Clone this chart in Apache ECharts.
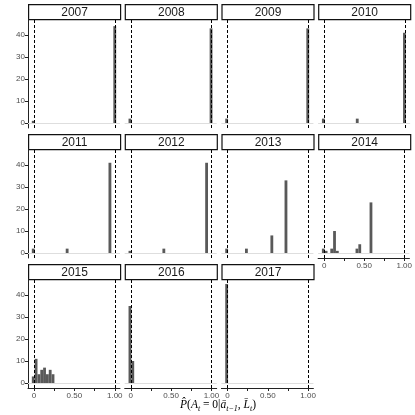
<!DOCTYPE html>
<html>
<head>
<meta charset="utf-8">
<script src="https://cdn.jsdelivr.net/npm/echarts@6/dist/echarts.min.js"></script>
<style>
  html,body{margin:0;padding:0;background:#fff;}
  #chart{width:415px;height:415px;}
</style>
</head>
<body>
<div id="chart"></div>
<script>
"use strict";

// facet labels
var years=['2007','2008','2009','2010','2011','2012','2013','2014','2015','2016','2017'];

// histogram bins per year: [bin centre, count]
var h2007=[[-0.01,1],[1.0,44]];
var h2008=[[-0.01,2],[0.995,43]];
var h2009=[[-0.01,2],[0.995,43]];
var h2010=[[-0.01,2],[0.41,2],[0.995,41]];
var h2011=[[-0.01,2],[0.41,2],[0.94,41]];
var h2012=[[-0.01,1],[0.41,2],[0.94,41]];
var h2013=[[-0.01,2],[0.235,2],[0.55,8],[0.725,33]];
var h2014=[[-0.01,2],[0.025,1],[0.095,2],[0.13,10],[0.165,1],[0.41,2],[0.445,4],[0.585,23]];
var h2015=[[-0.01,3],[0.025,11],[0.06,4],[0.095,6],[0.13,7],[0.165,4],[0.2,6],[0.235,4]];
var h2016=[[-0.01,35],[0.025,10]];
var h2017=[[-0.01,45]];
var hists=[h2007,h2008,h2009,h2010,h2011,h2012,h2013,h2014,h2015,h2016,h2017];

var binWidth=0.035;
var refLines=[0,1];
var yTicks=[0,10,20,30,40];
var xTicks=[0,0.25,0.5,0.75,1];
var xLabels=[0,0.5,1];

var COLS=4, ROWS=3;
var P_LEFT=28, P_STEP_X=96.7, P_W=92;
var P_TOP=19, P_STEP_Y=130, P_H=109, STRIP_H=15;

var chart=echarts.init(document.getElementById('chart'));

var grids=[],xAxes=[],yAxes=[],series=[],graphics=[];

years.forEach(function(yr,i){
  var c=i%COLS, r=Math.floor(i/COLS);
  var left=P_LEFT+c*P_STEP_X, top=P_TOP+r*P_STEP_Y;
  // bottom panel of its column?
  var bottom=(i+COLS>=years.length);
  var firstCol=(c===0);

  grids.push({left:left,top:top,width:P_W,height:P_H,containLabel:false});

  xAxes.push({
    type:'value',gridIndex:i,min:-0.075,max:1.065,
    axisLine:{show:bottom,onZero:false,lineStyle:{color:'#222',width:1}},
    axisTick:{show:bottom,length:3,customValues:xTicks,lineStyle:{color:'#222'}},
    axisLabel:{show:bottom,customValues:xLabels,color:'#4d4d4d',fontSize:8,margin:4,
      fontFamily:'Liberation Sans',
      formatter:function(v){return v===0?'0':v.toFixed(2);}},
    splitLine:{show:false}
  });

  yAxes.push({
    type:'value',gridIndex:i,min:-2.25,max:47.25,
    axisLine:{show:firstCol,onZero:false,lineStyle:{color:'#222',width:1}},
    axisTick:{show:firstCol,length:3,customValues:yTicks,lineStyle:{color:'#222'}},
    axisLabel:{show:firstCol,customValues:yTicks,color:'#4d4d4d',fontSize:8,margin:3,
      fontFamily:'Liberation Sans'},
    splitLine:{show:false}
  });

  // zero baseline
  series.push({
    type:'line',xAxisIndex:i,yAxisIndex:i,data:[],silent:true,z:1,
    markLine:{
      silent:true,symbol:'none',animation:false,label:{show:false},
      data:[{yAxis:0,lineStyle:{color:'#dedede',width:1,type:'solid'}}]
    }
  });

  series.push({
    type:'custom',xAxisIndex:i,yAxisIndex:i,data:hists[i],z:2,animation:false,
    renderItem:function(params,api){
      var x=api.value(0), n=api.value(1);
      var p0=api.coord([x-binWidth/2,n]);
      var p1=api.coord([x+binWidth/2,0]);
      return {type:'rect',
        shape:{x:p0[0],y:p0[1],width:p1[0]-p0[0],height:p1[1]-p0[1]},
        style:{fill:'#595959'}};
    }
  });

  // dashed reference lines at 0 and 1
  series.push({
    type:'line',xAxisIndex:i,yAxisIndex:i,data:[],silent:true,z:5,
    markLine:{
      silent:true,symbol:'none',animation:false,label:{show:false},
      lineStyle:{color:'#000',width:1,type:[3,2]},
      data:refLines.map(function(v){return {xAxis:v};})
    }
  });

  // facet strip
  graphics.push({
    type:'group',left:left,top:top-STRIP_H,
    children:[
      {type:'rect',shape:{x:0,y:0,width:P_W,height:STRIP_H},
        style:{fill:'#fff',stroke:'#111',lineWidth:1.2}},
      {type:'text',x:P_W/2,y:STRIP_H/2+0.5,
        style:{text:yr,fill:'#1a1a1a',font:'12px "Liberation Sans", sans-serif',
          align:'center',verticalAlign:'middle'}}
    ]
  });
});

// x axis title
graphics.push({
  type:'text',x:218,y:405,
  style:{
    text:'{i|P̂}{n|(}{i|A}{s|t}{n| = 0|}{i|ā}{s|t−1}{n|, }{i|L̄}{s|t}{n|)}',
    align:'center',verticalAlign:'middle',
    rich:{
      i:{fontFamily:'Liberation Serif',fontStyle:'italic',fontSize:11.5,fill:'#000',lineHeight:16,verticalAlign:'middle'},
      n:{fontFamily:'Liberation Serif',fontSize:11.5,fill:'#000',lineHeight:16,verticalAlign:'middle'},
      s:{fontFamily:'Liberation Serif',fontStyle:'italic',fontSize:8,fill:'#000',lineHeight:16,verticalAlign:'bottom'}
    }
  }
});

chart.setOption({
  backgroundColor:'#fff',
  animation:false,
  grid:grids,
  xAxis:xAxes,
  yAxis:yAxes,
  series:series,
  graphic:graphics
});
</script>
</body>
</html>
